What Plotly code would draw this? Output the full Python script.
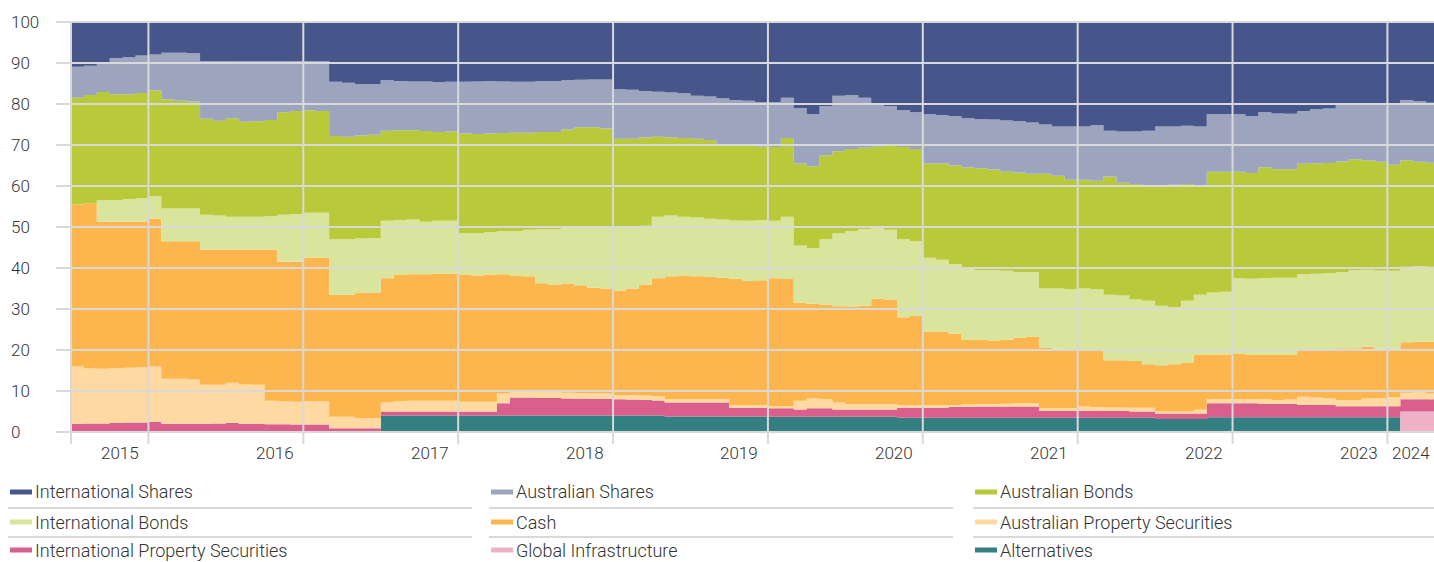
import plotly.graph_objects as go
import pandas as pd

# ---------------- data (percent allocation, monthly Jul-2015 .. Apr-2024) ----------------
months = pd.period_range("2015-07", "2024-04", freq="M").strftime("%Y-%m").tolist()
year_labels = ["2015", "2016", "2017", "2018", "2019", "2020", "2021", "2022", "2023", "2024"]
y_tick_values = [0, 10, 20, 30, 40, 50, 60, 70, 80, 90, 100]

alternatives = [
    0, 0, 0, 0, 0, 0, 0, 0, 0, 0,
    0, 0, 0, 0, 0, 0, 0, 0, 0, 0,
    0, 0, 0, 0, 4.0, 4.0, 4.0, 4.0, 4.0, 4.0,
    4.0, 4.0, 4.0, 4.0, 4.0, 4.0, 4.0, 4.0, 4.0, 4.0,
    4.0, 4.0, 4.0, 4.0, 4.0, 4.0, 3.8, 3.8, 3.8, 3.8,
    3.8, 3.8, 3.8, 3.8, 3.7, 3.7, 3.7, 3.7, 3.7, 3.7,
    3.7, 3.7, 3.7, 3.7, 3.5, 3.5, 3.5, 3.5, 3.5, 3.5,
    3.5, 3.5, 3.5, 3.5, 3.5, 3.5, 3.5, 3.5, 3.5, 3.5,
    3.5, 3.5, 3.5, 3.5, 3.2, 3.2, 3.2, 3.2, 3.6, 3.6,
    3.6, 3.6, 3.6, 3.6, 3.6, 3.6, 3.6, 3.6, 3.6, 3.6,
    3.6, 3.6, 3.6, 0, 0, 0,
]
global_infrastructure = [
    0, 0, 0, 0, 0, 0, 0, 0, 0, 0,
    0, 0, 0, 0, 0, 0, 0, 0, 0, 0,
    0, 0, 0, 0, 0, 0, 0, 0, 0, 0,
    0, 0, 0, 0, 0, 0, 0, 0, 0, 0,
    0, 0, 0, 0, 0, 0, 0, 0, 0, 0,
    0, 0, 0, 0, 0, 0, 0, 0, 0, 0,
    0, 0, 0, 0, 0, 0, 0, 0, 0, 0,
    0, 0, 0, 0, 0, 0, 0, 0, 0, 0,
    0, 0, 0, 0, 0, 0, 0, 0, 0, 0,
    0, 0, 0, 0, 0, 0, 0, 0, 0, 0,
    0, 0, 0, 5.0, 5.0, 5.0,
]
intl_property = [
    2.0, 2.1, 2.1, 2.2, 2.3, 2.3, 2.5, 2.0, 2.0, 2.0,
    2.0, 2.1, 2.2, 2.0, 2.0, 1.9, 1.9, 1.8, 1.8, 1.8,
    0.9, 0.9, 0.9, 0.9, 1.0, 1.0, 1.0, 1.0, 1.0, 1.0,
    1.0, 1.0, 1.0, 3.0, 4.4, 4.4, 4.3, 4.3, 4.2, 4.2,
    4.1, 4.1, 4.0, 3.9, 3.8, 3.7, 3.4, 3.4, 3.4, 3.4,
    3.4, 2.1, 2.1, 2.1, 2.1, 2.1, 1.8, 2.1, 2.1, 1.8,
    1.8, 1.8, 1.8, 1.8, 2.4, 2.4, 2.4, 2.4, 2.6, 2.6,
    2.7, 2.7, 2.7, 2.7, 2.7, 1.6, 1.6, 1.6, 1.7, 1.7,
    1.6, 1.6, 1.5, 1.5, 1.3, 1.3, 1.3, 1.3, 3.4, 3.4,
    3.4, 3.4, 3.2, 3.2, 3.2, 3.0, 3.0, 3.0, 2.7, 2.7,
    2.7, 2.7, 2.7, 3.0, 3.0, 3.0,
]
aus_property = [
    14.0, 13.4, 13.3, 13.4, 13.4, 13.5, 13.5, 11.0, 11.0, 10.8,
    9.5, 9.4, 9.8, 9.6, 9.5, 5.7, 5.6, 5.6, 5.7, 5.7,
    2.8, 2.8, 2.5, 2.5, 2.2, 2.5, 2.6, 2.6, 2.6, 2.6,
    2.4, 2.4, 2.4, 2.4, 1.4, 1.4, 1.4, 1.4, 1.4, 1.3,
    1.3, 1.3, 1.0, 1.1, 1.1, 1.1, 0.8, 0.8, 0.8, 0.8,
    0.8, 0.7, 0.7, 0.7, 0.5, 0.5, 2.1, 2.4, 2.2, 1.7,
    1.3, 1.3, 1.3, 1.3, 0.7, 0.7, 0.7, 0.7, 0.5, 0.6,
    0.6, 0.6, 0.7, 0.8, 0.8, 0.7, 0.7, 0.7, 1.0, 0.9,
    0.9, 0.9, 0.9, 0.9, 0.5, 0.5, 0.5, 0.9, 1.0, 1.0,
    1.0, 0.9, 1.2, 1.0, 1.1, 2.0, 1.8, 1.6, 1.5, 1.5,
    1.9, 2.0, 2.2, 1.6, 1.7, 1.4,
]
cash = [
    39.5, 40.3, 35.9, 35.7, 35.6, 35.5, 36.0, 33.5, 33.5, 33.7,
    33.0, 33.0, 32.5, 32.9, 33.0, 36.9, 34.0, 34.1, 35.0, 35.0,
    29.8, 29.8, 30.6, 30.6, 30.3, 30.8, 30.9, 30.9, 31.0, 31.0,
    30.9, 30.8, 31.0, 29.1, 28.4, 28.2, 26.6, 26.3, 26.6, 26.3,
    25.8, 25.6, 25.5, 26.0, 27.1, 28.7, 30.0, 30.2, 30.0, 29.8,
    29.6, 30.8, 30.2, 30.4, 31.2, 31.0, 23.9, 23.1, 23.0, 23.5,
    23.7, 24.0, 25.7, 25.5, 21.4, 21.7, 17.9, 17.9, 17.4, 15.8,
    15.7, 15.5, 15.6, 16.0, 16.3, 14.7, 14.5, 14.2, 13.8, 13.7,
    11.5, 11.5, 11.4, 10.6, 11.3, 11.5, 11.8, 13.4, 10.9, 10.9,
    11.0, 10.9, 10.8, 11.0, 10.9, 11.4, 11.6, 11.8, 12.6, 12.6,
    12.6, 12.0, 11.8, 12.3, 12.3, 12.7,
]
intl_bonds = [
    0.0, 0.0, 5.2, 5.2, 5.5, 5.7, 5.5, 8.0, 8.0, 8.0,
    8.5, 8.3, 8.0, 8.0, 8.0, 8.1, 11.5, 11.7, 11.0, 11.0,
    13.5, 13.5, 13.2, 13.3, 14.0, 13.4, 13.3, 12.8, 12.9, 12.9,
    10.2, 10.3, 10.4, 10.5, 10.8, 11.3, 13.2, 13.5, 13.6, 14.2,
    14.8, 15.2, 15.5, 15.0, 14.3, 15.0, 14.8, 14.3, 14.3, 14.2,
    14.2, 14.2, 14.7, 14.7, 14.0, 15.2, 14.0, 13.5, 16.0, 17.8,
    18.5, 18.7, 17.5, 17.0, 19.0, 18.2, 18.0, 17.5, 17.0, 17.7,
    17.0, 17.2, 16.8, 16.0, 15.7, 14.5, 14.7, 14.8, 15.0, 15.0,
    16.0, 15.8, 15.0, 15.5, 14.5, 14.0, 15.2, 14.7, 15.1, 15.3,
    18.5, 18.6, 18.7, 18.8, 18.8, 18.5, 18.6, 18.8, 18.6, 19.1,
    18.8, 19.1, 19.0, 18.4, 18.4, 18.2,
]
aus_bonds = [
    26.0, 26.4, 26.4, 25.9, 25.6, 25.7, 25.8, 26.6, 26.3, 26.1,
    23.4, 23.1, 24.0, 23.2, 23.3, 23.5, 25.0, 25.1, 25.0, 24.8,
    25.2, 25.0, 25.1, 25.2, 22.0, 21.9, 21.8, 22.1, 21.7, 21.8,
    24.3, 24.2, 24.0, 23.9, 24.0, 23.7, 23.7, 23.7, 24.0, 24.3,
    24.3, 23.8, 21.5, 21.5, 21.5, 19.5, 19.0, 19.2, 19.2, 19.2,
    18.4, 18.4, 18.3, 17.9, 18.0, 19.2, 20.0, 20.0, 20.5, 20.0,
    20.0, 19.8, 19.6, 20.5, 22.5, 22.5, 23.0, 23.5, 24.0, 24.3,
    24.8, 24.5, 24.2, 24.3, 24.0, 28.0, 27.5, 26.7, 26.5, 26.5,
    28.8, 27.5, 28.2, 28.0, 29.2, 29.8, 28.5, 26.5, 29.5, 29.3,
    26.0, 25.8, 27.1, 26.5, 26.5, 26.9, 26.9, 26.8, 27.0, 27.0,
    26.7, 26.5, 25.9, 26.0, 25.5, 25.4,
]
aus_shares = [
    7.6, 7.1, 6.8, 8.8, 9.0, 9.1, 8.8, 11.4, 11.7, 11.8,
    14.1, 14.6, 13.9, 14.7, 14.6, 14.3, 12.4, 12.2, 12.0, 12.2,
    13.2, 13.2, 12.5, 12.3, 12.3, 12.0, 11.9, 12.1, 12.1, 12.1,
    12.6, 12.8, 12.8, 12.6, 12.4, 12.4, 12.4, 12.4, 12.0, 11.6,
    11.7, 12.0, 12.1, 12.0, 11.4, 11.0, 11.0, 10.9, 10.5, 10.6,
    11.2, 11.0, 11.0, 10.9, 11.0, 9.8, 13.5, 12.7, 12.0, 13.5,
    13.2, 12.2, 10.4, 9.7, 9.0, 9.0, 12.0, 11.8, 12.0, 12.0,
    12.0, 12.2, 12.5, 12.5, 12.5, 12.0, 12.0, 13.0, 13.0, 13.5,
    11.2, 12.5, 12.8, 13.5, 14.5, 14.2, 14.2, 14.5, 14.0, 14.0,
    14.0, 13.9, 13.4, 13.6, 13.5, 12.9, 13.2, 13.3, 13.8, 13.5,
    13.7, 14.1, 14.7, 14.7, 14.8, 14.6,
]
intl_shares = [
    10.9, 10.7, 10.3, 8.8, 8.6, 8.2, 7.9, 7.5, 7.5, 7.6,
    9.5, 9.5, 9.6, 9.6, 9.6, 9.6, 9.6, 9.5, 9.5, 9.5,
    14.6, 14.8, 15.2, 15.2, 14.2, 14.4, 14.5, 14.5, 14.7, 14.6,
    14.6, 14.5, 14.4, 14.5, 14.6, 14.6, 14.4, 14.4, 14.2, 14.1,
    14.0, 14.0, 16.4, 16.5, 16.8, 17.0, 17.2, 17.4, 18.0, 18.2,
    18.6, 19.0, 19.2, 19.5, 19.5, 18.5, 21.0, 22.5, 20.5, 18.0,
    17.8, 18.5, 20.0, 20.5, 21.5, 22.0, 22.5, 22.7, 23.0, 23.5,
    23.7, 23.8, 24.0, 24.2, 24.5, 25.0, 25.5, 25.5, 25.5, 25.2,
    26.5, 26.7, 26.7, 26.5, 25.5, 25.5, 25.3, 25.5, 22.5, 22.5,
    22.5, 22.9, 22.0, 22.3, 22.4, 21.7, 21.3, 21.1, 20.2, 20.0,
    20.0, 20.0, 20.1, 19.0, 19.3, 19.7,
]

# stacking order: bottom -> top
series = [
    ("Alternatives", alternatives, "#337f81"),
    ("Global Infrastructure", global_infrastructure, "#efb1c6"),
    ("International Property Securities", intl_property, "#da5f8c"),
    ("Australian Property Securities", aus_property, "#fed9a2"),
    ("Cash", cash, "#fdb64e"),
    ("International Bonds", intl_bonds, "#d9e49d"),
    ("Australian Bonds", aus_bonds, "#b8c93a"),
    ("Australian Shares", aus_shares, "#9da4be"),
    ("International Shares", intl_shares, "#46568a"),
]
color_of = {name: col for name, _, col in series}

legend_rows = [
    ["International Shares", "Australian Shares", "Australian Bonds"],
    ["International Bonds", "Cash", "Australian Property Securities"],
    ["International Property Securities", "Global Infrastructure", "Alternatives"],
]

# ---------------- layout constants ----------------
W, H = 1434, 562
ML, MR, MT, MB = 71, 0, 22, 130
PW, PH = W - ML - MR, H - MT - MB
MONTH_PX = 12.906
XMAX = PW / MONTH_PX
FONT = "Roboto, Lato, 'Open Sans', sans-serif"
TXT = "#333333"
GRID = "#d9d9d9"


def px_x(px):
    return (px - ML) / PW


def px_y(py):
    return (H - MB - py) / PH


n = len(months)
x_edges = list(range(n + 1))  # month boundaries (month k spans k..k+1)

fig = go.Figure()
for name, vals, col in series:
    fig.add_trace(go.Scatter(
        x=x_edges, y=list(vals) + list(vals[-1:]),
        name=name, mode="lines", stackgroup="one",
        line=dict(width=0, shape="hv", color=col),
        fillcolor=col, showlegend=False,
        customdata=months + months[-1:],
        hovertemplate="%{customdata}: %{y:.1f}%<extra>" + name + "</extra>",
    ))

shapes = []
# horizontal grid (drawn above the areas)
for v in y_tick_values:
    shapes.append(dict(type="line", xref="paper", yref="paper",
                       x0=px_x(56), x1=1.0, y0=v / 100, y1=v / 100,
                       line=dict(color=GRID, width=2), layer="above"))
# vertical grid at year starts + left border
year_starts = [0] + [i for i, m in enumerate(months) if m.endswith("-01")]
for k in year_starts:
    shapes.append(dict(type="line", xref="paper", yref="paper",
                       x0=k / XMAX, x1=k / XMAX, y0=px_y(444), y1=1.0,
                       line=dict(color=GRID, width=2), layer="above"))

tick_font = dict(family=FONT, size=17, color=TXT, weight=300)
annotations = []
for v in y_tick_values:
    annotations.append(dict(text=str(v), xref="paper", yref="y", x=px_x(9), y=v,
                            xanchor="left", yanchor="middle", showarrow=False,
                            font=tick_font))
for yl in year_labels:
    last = max(i for i, m in enumerate(months) if m.startswith(yl))
    annotations.append(dict(text=yl, xref="x", yref="paper", x=last + 0.5, y=px_y(453),
                            xanchor="right", yanchor="middle", xshift=-1, showarrow=False,
                            font=tick_font))

# custom legend
col_px = [10, 491, 975]
row_py = [492, 522, 550]
sep_py = [508, 537]
for r, row in enumerate(legend_rows):
    for c, name in enumerate(row):
        cx, ry = col_px[c], row_py[r]
        shapes.append(dict(type="rect", xref="paper", yref="paper",
                           x0=px_x(cx), x1=px_x(cx + 22), y0=px_y(ry + 2.5), y1=px_y(ry - 2.5),
                           fillcolor=color_of[name], line=dict(width=0)))
        annotations.append(dict(text=name, xref="paper", yref="paper",
                                x=px_x(cx + 23), y=px_y(ry), xanchor="left", yanchor="middle",
                                showarrow=False,
                                font=dict(family=FONT, size=18, color=TXT, weight=300)))
for sy in sep_py:
    for cx in col_px:
        shapes.append(dict(type="line", xref="paper", yref="paper",
                           x0=px_x(cx - 2), x1=px_x(cx + 462), y0=px_y(sy), y1=px_y(sy),
                           line=dict(color=GRID, width=2)))

fig.update_layout(
    width=W, height=H, template="none",
    margin=dict(l=ML, r=MR, t=MT, b=MB, pad=0),
    paper_bgcolor="white", plot_bgcolor="white",
    showlegend=False, shapes=shapes, annotations=annotations,
    xaxis=dict(range=[0, XMAX], showgrid=False, zeroline=False, showticklabels=False,
               ticks="", showline=False, fixedrange=True),
    yaxis=dict(range=[0, 100], showgrid=False, zeroline=False, showticklabels=False,
               ticks="", showline=False, fixedrange=True),
    font=dict(family=FONT, color=TXT),
)

fig.write_html(
    "out.html",
    config={"displayModeBar": False},
    post_script="document.body.style.margin='0';document.body.style.overflow='hidden';",
)
